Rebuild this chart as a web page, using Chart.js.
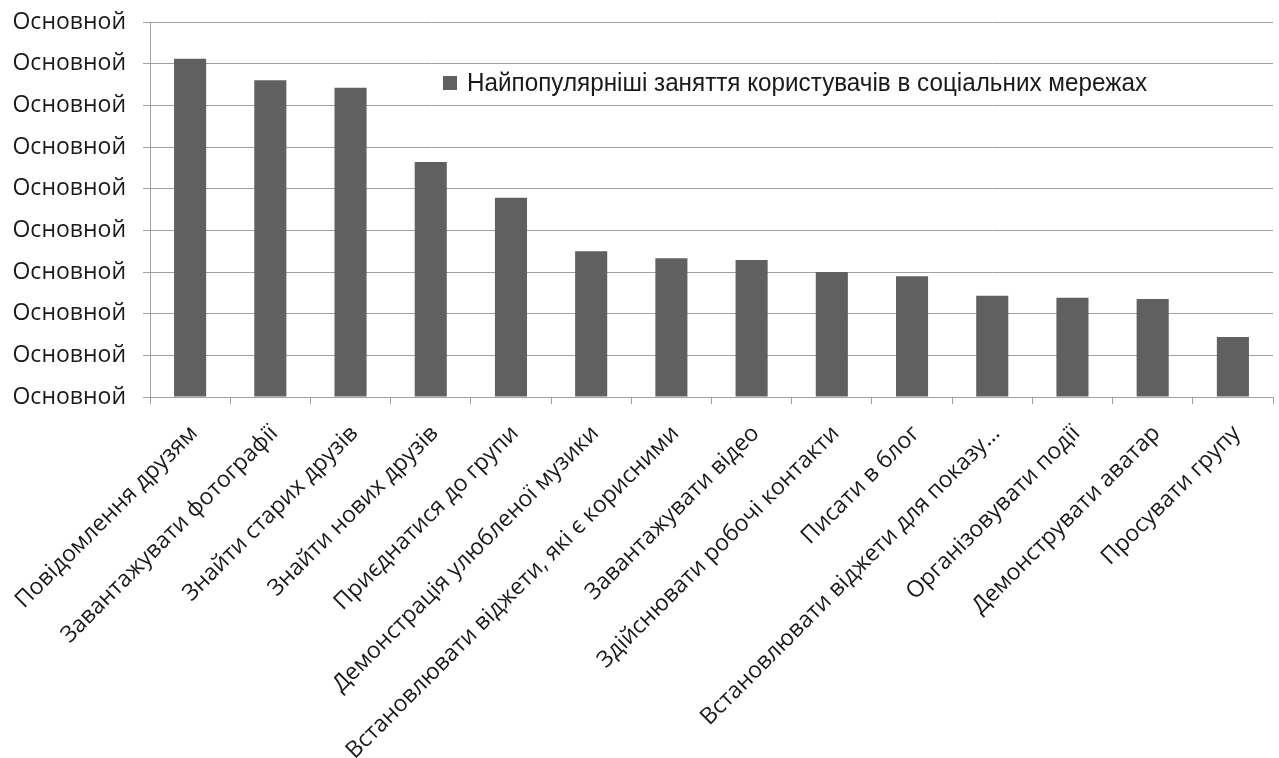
<!DOCTYPE html>
<html>
<head>
<meta charset="utf-8">
<script src="https://cdn.jsdelivr.net/npm/chart.js@4"></script>
<style>
html,body{margin:0;padding:0;background:#fff;}
#wrap{position:relative;width:1279px;height:758px;}
</style>
</head>
<body>
<div id="wrap"><canvas id="c" width="1279" height="758"></canvas></div>
<script>
const categories = [
  'Повідомлення друзям',
  'Завантажувати фотографії',
  'Знайти старих друзів',
  'Знайти нових друзів',
  'Приєднатися до групи',
  'Демонстрація улюбленої музики',
  'Встановлювати віджети, які є корисними',
  'Завантажувати відео',
  'Здійснювати робочі контакти',
  'Писати в блог',
  'Встановлювати віджети для показу…',
  'Організовувати події',
  'Демонструвати аватар',
  'Просувати групу'
];
const seriesName = 'Найпопулярніші заняття користувачів в соціальних мережах';
const values = [8.12, 7.6, 7.42, 5.64, 4.78, 3.5, 3.33, 3.29, 3.0, 2.9, 2.43, 2.38, 2.35, 1.44];
const yTickLabels = ['Основной','Основной','Основной','Основной','Основной','Основной','Основной','Основной','Основной','Основной'];

const barColor = '#606060';
const gridColor = '#a0a0a0';
const textColor = '#1a1a1a';

const legendPlugin = {
  id: 'insideLegend',
  afterDraw(chart) {
    const ctx = chart.ctx;
    ctx.save();
    ctx.fillStyle = barColor;
    ctx.fillRect(443, 76, 14, 14);
    ctx.fillStyle = textColor;
    ctx.font = '25px "Liberation Sans Narrow", "Liberation Sans", sans-serif';
    ctx.textBaseline = 'middle';
    ctx.textAlign = 'left';
    const w = ctx.measureText(seriesName).width;
    const targetW = 680;
    ctx.translate(467, 84);
    ctx.scale(targetW / w, 1);
    ctx.fillText(seriesName, 0, 0);
    ctx.restore();
  }
};

new Chart(document.getElementById('c'), {
  type: 'bar',
  data: {
    labels: categories,
    datasets: [{
      label: seriesName,
      data: values,
      backgroundColor: barColor,
      borderWidth: 0,
      barPercentage: 0.8,
      categoryPercentage: 0.5
    }]
  },
  options: {
    responsive: false,
    animation: false,
    layout: { padding: { top: 22, right: 6, left: 0, bottom: 0 } },
    plugins: {
      legend: { display: false },
      tooltip: { enabled: false }
    },
    scales: {
      x: {
        offset: true,
        grid: {
          offset: true,
          drawOnChartArea: false,
          drawTicks: true,
          tickLength: 7,
          color: gridColor
        },
        border: { display: true, color: gridColor },
        ticks: {
          autoSkip: false,
          maxRotation: 45,
          minRotation: 45,
          color: textColor,
          font: { family: '"Open Sans", sans-serif', size: 23 },
          padding: 16,
          labelOffset: 4
        },
        afterFit(scale) {
          scale.height = 361;
          scale.paddingLeft = 0;
          scale.paddingRight = 0;
        }
      },
      y: {
        min: 0,
        max: 9,
        grid: {
          color: gridColor,
          drawTicks: true,
          tickLength: 7
        },
        border: { display: true, color: gridColor },
        ticks: {
          stepSize: 1,
          color: textColor,
          font: { family: '"Open Sans", sans-serif', size: 23 },
          padding: 17,
          callback: (v, i) => yTickLabels[i]
        },
        afterFit(scale) {
          scale.width = 150;
          scale.paddingTop = 0;
          scale.paddingBottom = 0;
        }
      }
    }
  },
  plugins: [legendPlugin]
});
</script>
</body>
</html>
